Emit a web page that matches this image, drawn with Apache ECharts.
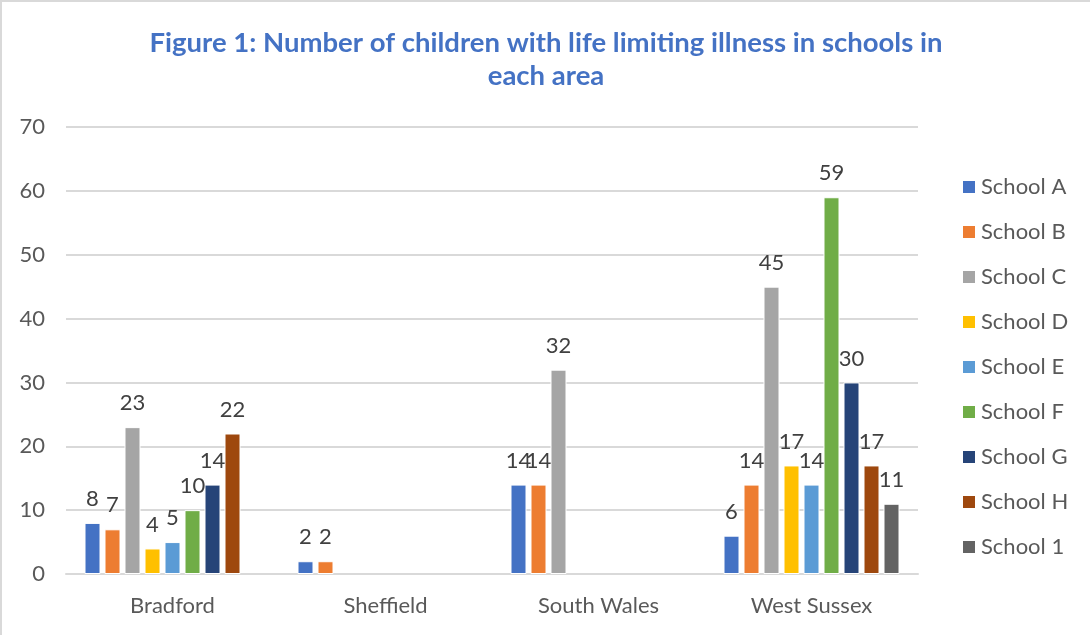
<!DOCTYPE html>
<html>
<head>
<meta charset="utf-8">
<script src="https://cdn.jsdelivr.net/npm/echarts@6/dist/echarts.min.js"></script>
<style>
  html, body { margin: 0; padding: 0; background: #fff; }
  #chart {
    width: 1088px; height: 633px;
    border-top: 2px solid #d9d9d9; border-left: 2px solid #d9d9d9;
  }
</style>
</head>
<body>
<div id="chart"></div>
<script>
// Areas on the category axis
const areas = ['Bradford', 'Sheffield', 'South Wales', 'West Sussex'];

// Children with life limiting illness, per school, per area (null = no school in that area)
const schoolA = [8, 2, 14, 6];
const schoolB = [7, 2, 14, 14];
const schoolC = [23, null, 32, 45];
const schoolD = [4, null, null, 17];
const schoolE = [5, null, null, 14];
const schoolF = [10, null, null, 59];
const schoolG = [14, null, null, 30];
const schoolH = [22, null, null, 17];
const school1 = [null, null, null, 11];

const seriesNames = ['School A', 'School B', 'School C', 'School D', 'School E',
                     'School F', 'School G', 'School H', 'School 1'];
const seriesValues = [schoolA, schoolB, schoolC, schoolD, schoolE,
                      schoolF, schoolG, schoolH, school1];
const palette = ['#4472C4', '#ED7D31', '#A5A5A5', '#FFC000', '#5B9BD5',
                 '#70AD47', '#264478', '#9E480E', '#636363'];

const yTicks = { min: 0, max: 70, interval: 10 };

const font = 'Lato, "Open Sans", sans-serif';

const chart = echarts.init(document.getElementById('chart'), null, { renderer: 'canvas' });

chart.setOption({
  animation: false,
  color: palette,
  title: {
    text: 'Figure 1: Number of children with life limiting illness in schools in\neach area',
    left: 'center',
    top: 20,
    textStyle: {
      color: '#4472C4', fontFamily: font, fontWeight: 'bold',
      fontSize: 27.5, lineHeight: 33
    }
  },
  legend: {
    orient: 'vertical',
    left: 954,
    top: 169,
    itemWidth: 14,
    itemHeight: 14,
    itemGap: 23,
    icon: 'rect',
    textStyle: { color: '#595959', fontFamily: font, fontSize: 22 },
    data: seriesNames
  },
  grid: { left: 64, right: 172, top: 125, bottom: 61, containLabel: false },
  xAxis: {
    type: 'category',
    data: areas,
    axisLine: { lineStyle: { color: '#d9d9d9', width: 2 } },
    axisTick: { show: false },
    axisLabel: { color: '#595959', fontFamily: font, fontSize: 22, margin: 21 }
  },
  yAxis: {
    type: 'value',
    min: yTicks.min, max: yTicks.max, interval: yTicks.interval,
    axisLine: { show: false },
    axisTick: { show: false },
    splitLine: { lineStyle: { color: '#d9d9d9', width: 2 } },
    axisLabel: { color: '#595959', fontFamily: font, fontSize: 22, margin: 21 }
  },
  series: seriesNames.map((name, i) => ({
    name,
    type: 'bar',
    data: seriesValues[i],
    barWidth: 16,
    barGap: '25%',
    itemStyle: { color: palette[i], borderColor: '#ffffff', borderWidth: 1 },
    label: {
      show: true,
      position: 'top',
      distance: 13,
      color: '#404040',
      fontFamily: font,
      fontSize: 22
    }
  }))
});
</script>
</body>
</html>
